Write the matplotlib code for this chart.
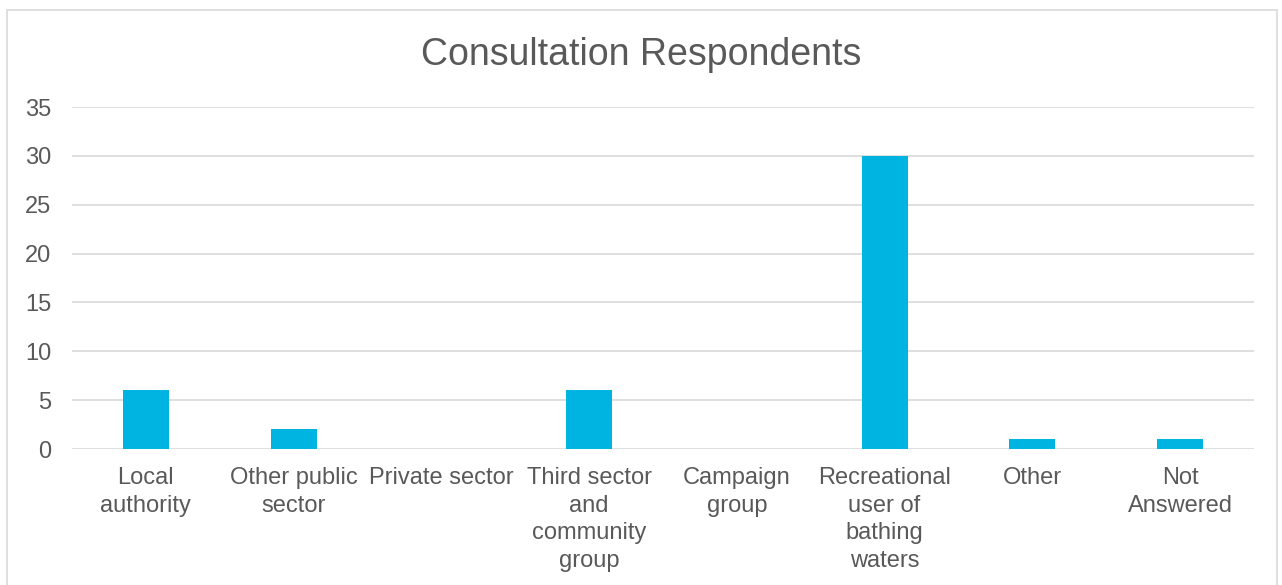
import matplotlib.pyplot as plt
from matplotlib.patches import Rectangle

categories = ["Local\nauthority", "Other public\nsector", "Private sector",
              "Third sector\nand\ncommunity\ngroup", "Campaign\ngroup",
              "Recreational\nuser of\nbathing\nwaters", "Other", "Not\nAnswered"]
counts = [6, 2, 0, 6, 0, 30, 1, 1]
yticks = [0, 5, 10, 15, 20, 25, 30, 35]

plt.rcParams['font.family'] = ['Liberation Sans', 'DejaVu Sans']
text_col = '#595959'
grid_col = '#D9D9D9'

fig = plt.figure(figsize=(12.82, 5.85), dpi=100)
# outer chart border
fig.patches.append(Rectangle((7 / 1282, -0.01), 1270 / 1282, 1 - 10 / 585 + 0.01,
                             transform=fig.transFigure, fill=False,
                             edgecolor=grid_col, linewidth=1.2))

ax = fig.add_axes([72 / 1282, 1 - 449 / 585, (1254 - 72) / 1282, (449 - 107) / 585])
x = range(len(categories))
ax.bar(x, counts, width=0.31, color='#00B4E1', zorder=3)

ax.set_xlim(-0.5, len(categories) - 0.5)
ax.set_ylim(0, 35)
ax.set_yticks(yticks)
ax.set_xticks(list(x))
ax.set_xticklabels(categories, fontsize=17, color=text_col, va='top', linespacing=1.33)
ax.tick_params(axis='y', labelsize=17, colors=text_col, length=0, pad=15)
ax.tick_params(axis='x', length=0, pad=13)
ax.grid(axis='y', color=grid_col, linewidth=1.2, zorder=0)
for s in ax.spines.values():
    s.set_visible(False)

fig.text(0.5, 1 - 55 / 585, "Consultation Respondents", ha='center', va='center',
         fontsize=27, color=text_col)

fig.savefig("out.png", dpi=100)
